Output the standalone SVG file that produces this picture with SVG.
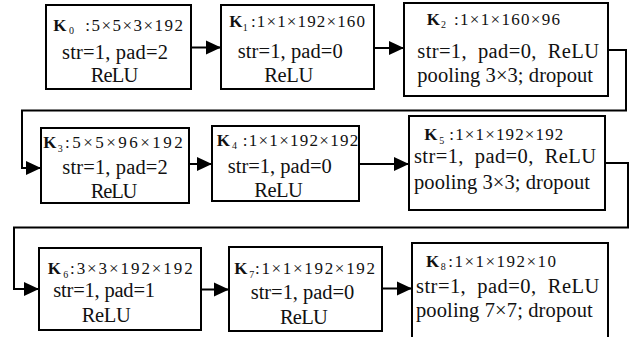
<svg xmlns="http://www.w3.org/2000/svg" width="642" height="337" viewBox="0 0 642 337" font-family="'Liberation Serif', 'DejaVu Serif', serif">
  <style>
    .box { fill: #ffffff; stroke: #000000; stroke-width: 2; }
    .edge { fill: none; stroke: #000000; stroke-width: 2; }
    text { font-family: "Liberation Serif", "DejaVu Serif", serif; fill: #111111; }
    .k { font-size: 17px; font-weight: bold; }
    .sub { font-size: 10px; }
    .dim { font-size: 17px; }
    .body { font-size: 20.5px; }
  </style>
  <defs>
    <marker id="arrow" markerUnits="userSpaceOnUse" markerWidth="16" markerHeight="16" viewBox="0 0 16 16" refX="15" refY="8" orient="auto">
      <path d="M0,1 L15,8 L0,15 Z" fill="#000000"/>
    </marker>
  </defs>

  <!-- connectors -->
  <g id="connectors">
    <path class="edge" d="M191,47.5 H221" marker-end="url(#arrow)"/>
    <path class="edge" d="M374,48 H404" marker-end="url(#arrow)"/>
    <path class="edge" d="M608,50 H626 V110.5 H22 V168 H41" marker-end="url(#arrow)"/>
    <path class="edge" d="M189,164 H212" marker-end="url(#arrow)"/>
    <path class="edge" d="M359,164 H409" marker-end="url(#arrow)"/>
    <path class="edge" d="M605,163 H628 V227.5 H14 V289 H39" marker-end="url(#arrow)"/>
    <path class="edge" d="M201,289.5 H229" marker-end="url(#arrow)"/>
    <path class="edge" d="M382,288.5 H412" marker-end="url(#arrow)"/>
  </g>

  <!-- layer K0 -->
  <g id="K0">
    <rect class="box" x="46" y="5" width="145" height="84"/>
    <text x="53.3" y="30.5"><tspan class="k">K</tspan><tspan class="sub" x="69" dy="3.5">0</tspan><tspan class="dim" x="85.3" dy="-3.5" textLength="97.7" lengthAdjust="spacing">:5×5×3×192</tspan></text>
    <text class="body" x="62" y="59" textLength="106" lengthAdjust="spacing">str=1, pad=2</text>
    <text class="body" x="90.7" y="82" textLength="47.6" lengthAdjust="spacing">ReLU</text>
  </g>

  <!-- layer K1 -->
  <g id="K1">
    <rect class="box" x="221" y="5" width="153" height="84"/>
    <text x="229.3" y="27"><tspan class="k">K</tspan><tspan class="sub" x="242.7" dy="3.5">1</tspan><tspan class="dim" x="251" dy="-3.5" textLength="114" lengthAdjust="spacing">:1×1×192×160</tspan></text>
    <text class="body" x="237.7" y="57.7" textLength="105" lengthAdjust="spacing">str=1, pad=0</text>
    <text class="body" x="264.3" y="81.7" textLength="49" lengthAdjust="spacing">ReLU</text>
  </g>

  <!-- layer K2 -->
  <g id="K2">
    <rect class="box" x="404" y="3" width="204" height="93"/>
    <text x="426.7" y="24.7"><tspan class="k">K</tspan><tspan class="sub" x="441" dy="3.5">2</tspan><tspan class="dim" x="454" dy="-3.5" textLength="106" lengthAdjust="spacing">:1×1×160×96</tspan></text>
    <text class="body" x="417.3" y="58" textLength="181.7" lengthAdjust="spacing" xml:space="preserve">str=1,  pad=0,  ReLU</text>
    <text class="body" x="417.3" y="82.3" textLength="175.7" lengthAdjust="spacing">pooling 3×3; dropout</text>
  </g>

  <!-- layer K3 -->
  <g id="K3">
    <rect class="box" x="41" y="128" width="148" height="75"/>
    <text x="43.3" y="148.3"><tspan class="k">K</tspan><tspan class="sub" x="57.7" dy="3.5">3</tspan><tspan class="dim" x="65" dy="-3.5" textLength="117.7" lengthAdjust="spacing">:5×5×96×192</tspan></text>
    <text class="body" x="62.3" y="174" textLength="105.4" lengthAdjust="spacing">str=1, pad=2</text>
    <text class="body" x="90.7" y="197.7" textLength="46.6" lengthAdjust="spacing">ReLU</text>
  </g>

  <!-- layer K4 -->
  <g id="K4">
    <rect class="box" x="212" y="126" width="147" height="75"/>
    <text x="216.7" y="145.7"><tspan class="k">K</tspan><tspan class="sub" x="232" dy="3.5">4</tspan><tspan class="dim" x="242.7" dy="-3.5" textLength="115.6" lengthAdjust="spacing">:1×1×192×192</tspan></text>
    <text class="body" x="227.7" y="172.7" textLength="104" lengthAdjust="spacing">str=1, pad=0</text>
    <text class="body" x="254.3" y="197.3" textLength="48.4" lengthAdjust="spacing">ReLU</text>
  </g>

  <!-- layer K5 -->
  <g id="K5">
    <rect class="box" x="409" y="116" width="196" height="94"/>
    <text x="424.3" y="140"><tspan class="k">K</tspan><tspan class="sub" x="439.3" dy="3.5">5</tspan><tspan class="dim" x="449.3" dy="-3.5" textLength="114" lengthAdjust="spacing">:1×1×192×192</tspan></text>
    <text class="body" x="414" y="163.3" textLength="182" lengthAdjust="spacing" xml:space="preserve">str=1,  pad=0,  ReLU</text>
    <text class="body" x="414" y="189.3" textLength="176" lengthAdjust="spacing">pooling 3×3; dropout</text>
  </g>

  <!-- layer K6 -->
  <g id="K6">
    <rect class="box" x="39" y="248" width="162" height="82"/>
    <text x="47.7" y="274.3"><tspan class="k">K</tspan><tspan class="sub" x="63.3" dy="3.5">6</tspan><tspan class="dim" x="70" dy="-3.5" textLength="122.7" lengthAdjust="spacing">:3×3×192×192</tspan></text>
    <text class="body" x="53.3" y="297.3" textLength="101.7" lengthAdjust="spacing">str=1, pad=1</text>
    <text class="body" x="81.7" y="321.7" textLength="49" lengthAdjust="spacing">ReLU</text>
  </g>

  <!-- layer K7 -->
  <g id="K7">
    <rect class="box" x="229" y="247" width="153" height="84"/>
    <text x="234.3" y="274.3"><tspan class="k">K</tspan><tspan class="sub" x="249.3" dy="3.5">7</tspan><tspan class="dim" x="255" dy="-3.5" textLength="120" lengthAdjust="spacing">:1×1×192×192</tspan></text>
    <text class="body" x="250.7" y="299" textLength="103.6" lengthAdjust="spacing">str=1, pad=0</text>
    <text class="body" x="280" y="324.3" textLength="47.7" lengthAdjust="spacing">ReLU</text>
  </g>

  <!-- layer K8 (runs past the lower edge) -->
  <g id="K8">
    <rect class="box" x="412" y="243" width="196" height="100"/>
    <text x="426" y="266.7"><tspan class="k">K</tspan><tspan class="sub" x="440.7" dy="3.5">8</tspan><tspan class="dim" x="448.3" dy="-3.5" textLength="107.7" lengthAdjust="spacing">:1×1×192×10</tspan></text>
    <text class="body" x="416" y="293.3" textLength="183.3" lengthAdjust="spacing" xml:space="preserve">str=1,  pad=0,  ReLU</text>
    <text class="body" x="416" y="316.7" textLength="176.7" lengthAdjust="spacing">pooling 7×7; dropout</text>
  </g>
</svg>
